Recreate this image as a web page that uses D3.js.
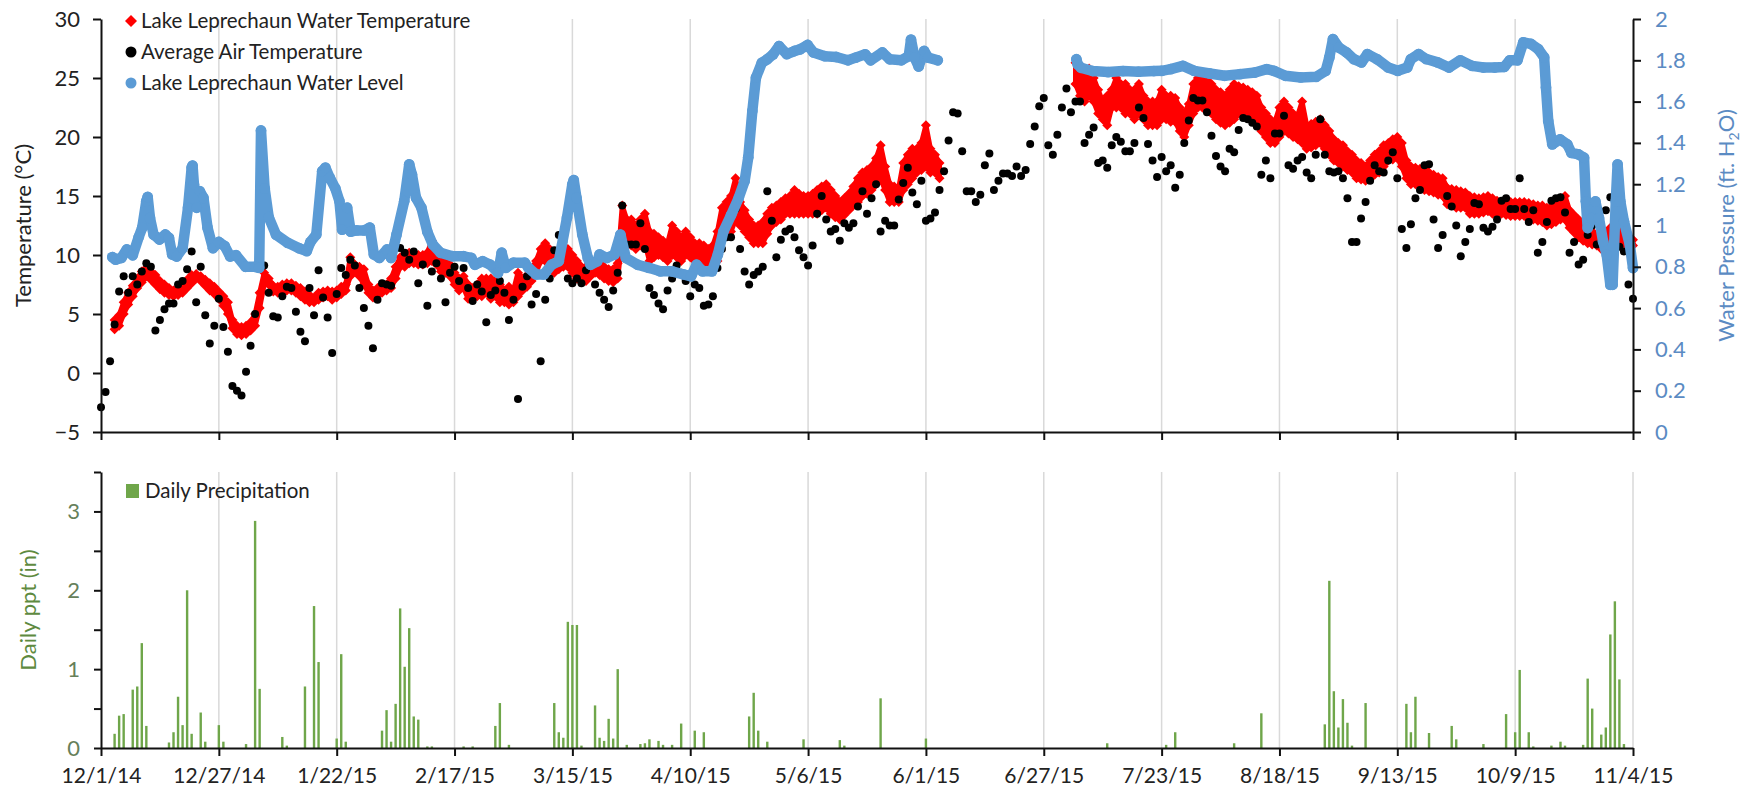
<!DOCTYPE html>
<html>
<head>
<meta charset="utf-8">
<script src="https://cdn.jsdelivr.net/npm/d3@7"></script>
<style>
  body { margin: 0; background: #fff; }
  svg { display: block; }
  text { font-family: Lato, "Open Sans", sans-serif; }
</style>
</head>
<body>
<svg id="chart" width="1756" height="792"></svg>
<script>
// ---- Data -------------------------------------------------------------
// Day offsets are counted from 12/1/2014.
const startDate = "2014-12-01";
const tickEvery = 26;          // x-axis tick spacing in days
const lastDay = 338;           // 11/4/2015

// Average air temperature (°C), one value per day from 12/1/14
const airTemp = [
  -2.9,-1.6,1.0,4.1,6.9,8.2,6.8,8.2,7.5,8.6,9.3,9.0,3.6,4.5,5.4,5.9,5.9,7.5,7.8,8.8,10.3,6.0,9.0,4.9,2.5,4.0,
  6.3,3.9,1.8,-1.1,-1.5,-1.9,0.1,2.3,5.0,11.4,9.1,6.8,4.8,4.7,6.5,7.3,7.2,5.2,3.5,2.7,7.2,4.9,8.7,6.4,4.7,1.7,
  6.7,8.9,8.3,9.6,9.1,7.2,5.5,4.0,2.1,6.2,7.6,7.5,7.4,11.5,10.6,10.2,9.6,10.3,7.6,9.2,5.7,8.6,9.3,8.0,6.0,8.5,
  9.0,7.8,8.9,7.2,6.1,7.5,6.9,4.3,6.6,7.0,7.8,6.8,4.5,6.2,-2.2,7.3,8.2,5.8,6.7,1.0,6.2,8.0,10.4,11.7,11.1,8.0,
  7.6,8.0,7.6,8.7,9.5,7.5,6.8,6.2,5.6,7.0,8.5,14.2,10.9,10.9,10.9,12.7,10.5,7.2,6.6,5.9,5.4,7.0,8.0,9.1,8.5,7.8,
  6.5,7.5,7.2,5.7,5.8,6.5,8.9,10.5,11.5,11.5,13.9,10.5,8.6,7.5,8.3,8.6,9.0,15.4,12.9,9.8,11.3,12.0,12.2,11.5,10.4,9.8,
  9.1,10.8,13.5,15.0,13.0,12.0,12.2,11.2,12.7,12.3,12.7,14.1,15.4,13.5,14.8,16.0,12.0,12.9,12.5,12.5,14.7,16.1,17.4,15.3,14.3,16.3,
  12.9,13.1,13.6,15.5,17.1,19.7,22.1,22.0,18.8,15.4,15.4,14.5,15.1,17.6,18.6,15.5,16.3,16.9,16.9,16.7,17.5,16.7,17.2,19.4,20.9,22.6,
  23.3,19.3,18.5,20.2,22.5,24.1,22.1,23.0,23.0,19.5,20.2,20.8,17.8,18.0,17.4,19.3,20.0,19.6,18.8,18.8,19.5,22.5,21.6,19.4,18.0,16.6,
  18.3,17.1,17.6,15.7,16.8,19.5,21.4,23.3,23.1,23.1,22.1,20.1,18.4,17.5,17.1,19.0,18.7,20.6,21.6,21.5,21.2,20.9,16.8,18.0,16.5,20.3,
  20.3,21.8,17.6,17.3,18.0,18.3,17.0,16.5,18.5,21.5,18.5,17.1,17.0,17.1,16.5,14.8,11.1,11.1,13.1,14.5,16.3,17.6,17.1,17.0,18.0,18.7,
  16.5,12.2,10.6,12.6,14.8,15.5,17.6,17.7,13.0,10.6,11.7,15.0,14.1,12.5,9.9,11.1,12.2,14.4,14.3,12.3,12.0,12.4,13.0,14.6,14.8,13.9,
  13.9,16.5,13.9,12.8,13.8,10.2,11.1,12.8,14.6,14.8,14.9,13.6,10.2,11.1,9.2,9.6,11.7,12.5,10.9,12.0,13.8,14.9,13.4,10.7,10.3,7.5,6.3
];

// Lake water temperature (°C): daily low / high readings, first logger deployment (from day 3)
const waterTempStart1 = 3;
const waterTempLow1 = [
  3.7,4.0,5.0,5.8,6.5,7.2,7.7,8.2,7.9,7.5, 7.1,6.8,6.6,6.5,6.6,6.8,7.2,7.6,8.0,7.8,
  7.4,7.0,6.7,6.3,5.7,5.0,3.8,3.3,3.2,3.3, 3.6,4.0,5.5,7.5,7.5,6.9,6.8,7.0,7.0,7.0,
  6.8,6.5,6.2,6.0,6.0,6.2,6.4,6.5,6.2,6.4, 6.7,7.0,8.2,8.6,8.2,7.5,6.8,6.4,6.6,6.8,
  7.0,7.2,8.0,9.0,9.0,9.3,9.3,9.2,9.2,9.3, 9.5,9.2,8.6,8.5,8.2,7.5,7.0,7.2,6.3,6.3,
  6.5,6.5,6.8,6.3,6.5,6.0,6.0,5.8,6.0,6.5, 7.0,7.3,7.8,8.5,9.5,9.5,9.0,8.5,8.8,9.0,
  9.0,8.5,8.0,7.7,7.8,8.2,8.5,8.3,8.0,7.8, 7.7,8.0,11.5,11.0,10.8,10.5,10.8,11.0,9.5,9.8,
  10.0,9.8,9.5,10.0,9.8,9.5,10.0,9.8,9.5,9.5, 9.5,9.0,9.0,9.5,11.5,11.8,12.0,13.0,12.5,12.0,
  11.5,11.0,11.0,11.0,11.8,12.5,12.8,13.0,13.5,13.5, 13.5,13.5,13.5,13.5,13.5,13.5,13.8,14.0,13.5,13.2,
  13.0,13.4,13.8,14.2,14.5,15.0,15.2,15.5,16.0,16.5, 15.5,14.5,14.5,14.5,15.5,16.0,16.5,17.0,17.2,17.5,
  17.0,17.0,16.5
];
const waterTempHigh1 = [
  4.5,4.9,6.0,6.8,7.4,8.0,8.6,8.9,8.6,8.3, 7.8,7.5,7.2,7.0,7.2,7.5,7.9,8.3,8.4,8.2,
  7.9,7.6,7.3,6.9,6.5,6.0,4.5,4.0,3.9,4.0, 4.3,5.0,6.8,8.5,8.0,7.4,7.3,7.5,7.6,7.6,
  7.4,7.2,6.9,6.6,6.4,6.8,6.9,7.0,6.9,7.0, 7.3,7.5,9.8,9.2,9.0,8.8,7.5,7.0,7.2,7.5,
  7.5,8.0,9.0,9.8,9.8,10.2,10.0,10.0,10.0,10.2, 11.2,10.0,9.5,9.4,9.2,8.5,8.0,8.2,7.5,7.2,
  7.5,8.0,8.0,8.0,7.8,7.5,7.0,7.3,7.0,8.5, 8.0,8.3,8.8,9.5,10.5,11.0,10.5,10.0,10.0,10.3,
  10.5,10.0,9.5,9.0,9.0,9.3,9.5,9.3,9.0,8.8, 8.8,9.3,14.2,13.0,13.0,12.5,13.0,13.5,12.0,11.8,
  11.5,11.2,11.0,12.5,12.0,11.5,12.0,11.5,11.0,11.0, 10.8,10.5,10.8,12.0,14.0,14.5,15.0,16.5,14.5,13.8,
  13.0,12.5,12.5,12.8,13.5,14.0,14.2,14.5,14.8,15.0, 15.5,15.2,15.0,15.0,15.2,15.5,15.8,16.0,15.5,15.0,
  14.5,14.8,15.2,15.8,16.5,17.0,17.2,17.5,18.2,19.3, 17.5,16.0,15.8,15.7,17.8,18.5,19.0,19.0,19.5,21.0,
  19.0,18.5,17.8
];

// Second logger deployment (from day 215, 7/4/15)
const waterTempStart2 = 215;
const waterTempLow2 = [
  24.5,23.5,23.0,23.5,23.0,22.0,21.5,21.0,22.5,22.5, 22.5,22.0,22.0,21.5,22.0,21.5,21.0,21.0,21.0,21.5,
  21.5,21.3,21.3,20.5,20.0,21.0,22.0,22.5,22.5,22.3, 22.0,21.5,21.2,21.0,21.2,21.5,22.0,22.0,22.0,21.6,
  21.3,20.5,20.0,19.5,19.5,20.0,20.5,20.3,20.0,19.8, 19.5,19.0,19.1,19.3,19.5,19.0,18.5,18.0,17.8,17.5,
  17.2,17.0,16.5,16.4,16.3,16.5,16.8,17.0,17.5,18.0, 18.1,18.2,17.5,16.5,16.0,16.0,16.0,15.5,15.4,15.3,
  15.1,15.0,14.3,14.2,14.0,14.0,14.0,13.5,13.5,13.5, 13.6,13.7,13.5,13.5,13.5,13.4,13.3,13.3,13.3,13.3,
  13.1,13.0,12.9,12.8,12.5,12.6,12.8,13.0,13.0,12.3, 11.9,11.5,11.2,11.0,10.9,10.8,10.5,10.8,11.2,11.5,
  11.2,11.0,10.8,10.8
];
const waterTempHigh2 = [
  26.3,25.5,25.5,25.8,25.0,24.0,23.0,23.5,24.0,25.0, 24.5,24.5,24.0,24.0,24.5,23.5,23.0,23.0,23.0,24.0,
  23.5,23.5,23.3,22.5,22.0,22.8,24.5,25.0,25.0,24.8, 24.5,24.0,23.8,23.5,24.0,24.5,24.3,24.2,24.0,23.8,
  23.5,22.5,22.0,21.5,21.3,22.5,23.0,22.5,22.0,21.8, 23.0,21.0,21.1,21.3,21.5,21.0,20.5,19.8,19.5,19.3,
  18.8,18.5,18.0,17.8,17.5,18.0,18.5,18.8,19.3,19.5, 19.8,20.0,19.5,18.0,17.5,17.4,17.3,17.3,17.0,16.8,
  16.6,16.5,15.7,15.6,15.5,15.4,15.3,15.0,14.9,14.8, 14.9,15.0,14.8,14.6,14.5,14.5,14.5,14.5,14.5,14.5,
  14.4,14.3,14.2,14.2,14.0,14.1,14.3,14.8,15.0,13.8, 13.4,13.0,12.6,12.3,12.0,11.8,11.5,11.9,12.3,12.5,
  12.1,11.8,11.5,11.3
];

// Water level as pressure (ft H2O): logger day offset and reading
const levelDay1 = [
  2.5,3.2,4.5,5.7,7,8.3,9.1,10,10.3,10.8,11.6,12.9,14.2,15,15.7,16.7,18,19.2,20,20.2,20.5,21.1,21.8,22.6,23.5,24.7,
  26,27.3,28.5,29.8,31.9,34,34.9,35.3,36.1,37,38.6,41.2,43.7,45.4,46.2,47.5,48.8,49.5,50.5,51.7,52.6,53.2,54.3,55.1,
  56.4,58.1,59.3,60.2,61.4,63.1,64,65.2,66.9,68,68.6,69.5,70.7,72,73.2,74.9,77.5,80,81.7,82.5,84.2,85.9,87.6,88.4,
  89.3,91,93.5,94.3,96,97.7,99.4,101,102.8,104,104.3,104.9,106.2,107.4,108,109.5,110,111.6,113.3,114.6,115.8,118.4,
  120.9,123.4,126,128.5,130.2,131.4,132.7,134.8,136.1,137.3,139,140.7,142,142.8,143.7,144.5,145.8,147,148.3,149.6,
  151.3,153,154.2,155.9,157.2,159.7,162.2,164.8,166.5,168.6,169.8,172.4,174,176.6,178.2,178.7,179.5,180.4,181.6,182.5,184.6
];
const levelFt1 = [
  0.847,0.835,0.843,0.884,0.856,0.943,0.99,1.118,1.138,1.037,0.956,0.932,0.956,0.94,0.86,0.85,0.89,1.086,1.28,1.29,1.2,1.086,1.166,1.134,0.99,0.89,
  0.92,0.90,0.85,0.856,0.80,0.80,0.795,1.46,1.18,1.04,0.956,0.916,0.89,0.876,0.92,0.956,1.263,1.28,1.23,1.18,1.118,0.98,1.086,0.97,
  0.976,0.976,0.99,0.86,0.843,0.884,0.843,0.956,1.118,1.296,1.247,1.134,1.086,0.97,0.908,0.868,0.851,0.851,0.843,0.81,0.827,0.81,0.77,0.868,
  0.795,0.82,0.82,0.795,0.763,0.763,0.81,0.827,1.037,1.2,1.22,1.134,0.956,0.843,0.81,0.827,0.86,0.843,0.86,0.956,0.843,0.81,
  0.795,0.778,0.778,0.763,0.754,0.81,0.778,0.778,0.86,0.97,1.05,1.134,1.215,1.33,1.554,1.716,1.788,1.805,1.829,1.869,
  1.83,1.845,1.853,1.874,1.838,1.82,1.816,1.80,1.813,1.829,1.80,1.838,1.805,1.80,1.82,1.90,1.813,1.77,1.845,1.813,1.80
];
const levelDay2 = [
  215.2,215.5,216.2,218.8,222.2,225.5,228.9,232.3,234,236,238.7,241.2,244.6,247.9,251.3,254.6,257.2,258.8,261.3,264.7,
  268.1,270.2,271,271.8,273.1,274.8,276.4,278.1,279.4,281.5,284,286.1,288.2,289,290.7,292.4,294.9,297.4,299.9,302.5,
  305,307.5,309.6,310.8,312.5,313.8,315.5,317.1,318.4,318.8,319.3,320.2,321.9,323.5,324.4,326,327.2,327.6,328,328.9,
  329.7,330.5,331.4,332.2,333,333.5,334.2,334.6,335.2,336,337.3,338
];
const levelFt2 = [
  1.805,1.78,1.764,1.748,1.743,1.748,1.745,1.748,1.749,1.757,1.773,1.749,1.736,1.725,1.733,1.741,1.757,1.749,1.725,1.717,
  1.72,1.749,1.814,1.903,1.862,1.838,1.806,1.79,1.83,1.806,1.765,1.749,1.765,1.806,1.83,1.806,1.79,1.765,1.80,1.773,
  1.765,1.765,1.768,1.80,1.80,1.887,1.879,1.854,1.814,1.668,1.506,1.393,1.417,1.393,1.352,1.344,1.328,1.117,0.988,1.036,
  1.117,1.036,0.923,0.858,0.713,0.713,1.117,1.296,1.117,1.02,0.907,0.794
];

// Daily precipitation (in): day offset and total, days with rain only
const pptDay = [
  3,4,5,7,8,9,10,15,16,17,18,19,20,22,23,26,27,32,34,35,40,41,45,47,48,52,53,54,62,63,64,65,66,67,68,69,70,72,73,80,82,
  87,88,90,100,101,102,103,104,105,106,109,110,111,112,113,114,116,119,120,121,123,124,126,128,131,133,143,144,145,147,
  155,163,164,172,182,222,235,237,250,256,270,271,272,273,274,275,276,279,288,289,290,293,298,299,305,310,312,313,315,316,
  320,322,323,327,328,329,331,332,333,334,335,336
];
const pptIn = [
  0.18,0.41,0.43,0.74,0.78,1.33,0.28,0.07,0.20,0.65,0.29,2.00,0.18,0.45,0.08,0.29,0.08,0.05,2.88,0.75,0.14,0.03,0.78,1.80,1.09,0.12,1.19,0.08,0.22,0.48,0.08,0.56,1.77,1.03,1.52,0.40,0.36,0.02,0.02,0.02,0.02,
  0.28,0.57,0.04,0.57,0.20,0.13,1.60,1.56,1.56,0.03,0.54,0.13,0.09,0.37,0.12,1.00,0.04,0.05,0.06,0.11,0.09,0.04,0.04,0.31,0.22,0.20,0.40,0.70,0.22,0.08,
  0.11,0.10,0.03,0.63,0.12,0.06,0.04,0.20,0.06,0.44,0.30,2.12,0.72,0.26,0.62,0.32,0.03,0.57,0.56,0.20,0.65,0.19,0.28,0.11,0.05,0.43,0.20,0.99,0.20,0.02,
  0.03,0.08,0.03,0.04,0.88,0.50,0.17,0.26,1.44,1.86,0.87,0.05
];

const tempTicks = [-5, 0, 5, 10, 15, 20, 25, 30];
const levelTicks = [0, 0.2, 0.4, 0.6, 0.8, 1, 1.2, 1.4, 1.6, 1.8, 2];
const pptTicks = [0, 0.5, 1, 1.5, 2, 2.5, 3, 3.5];

// ---- Colours ------------------------------------------------------------
const RED = "#ff0000", BLUE = "#5b9bd5", GREEN = "#6fa64a";
const BLUE_TEXT = "#5b8bc3", GREEN_TEXT = "#5e8a40", GREEN_TICK = "#66805a";
const GRID = "#d9d9d9", TEXT = "#222";

// ---- Scales -------------------------------------------------------------
const t0 = Date.parse(startDate + "T00:00:00Z");
const dayToDate = d => new Date(t0 + d * 864e5);

const svg = d3.select("#chart");
const x = d3.scaleUtc().domain([dayToDate(0), dayToDate(lastDay)]).range([101, 1633]);
const yT = d3.scaleLinear().domain([-5, 30]).range([432, 19]);
const yL = d3.scaleLinear().domain([0, 2]).range([432, 19]);
const yP = d3.scaleLinear().domain([0, 3.5]).range([748, 472]);

const tickDates = d3.range(0, lastDay + 1, tickEvery).map(dayToDate);
const fmtDate = d3.utcFormat("%-m/%-d/%y");

// ---- Gridlines ----------------------------------------------------------
svg.append("g").selectAll("line").data(tickDates.slice(1, -1)).join("line")
  .attr("x1", d => x(d)).attr("x2", d => x(d))
  .attr("y1", yT(30)).attr("y2", yT(-5))
  .attr("stroke", GRID).attr("stroke-width", 1.5);
svg.append("g").selectAll("line").data(tickDates.slice(1)).join("line")
  .attr("x1", d => x(d)).attr("x2", d => x(d))
  .attr("y1", yP(3.5)).attr("y2", yP(0))
  .attr("stroke", GRID).attr("stroke-width", 1.5);

// ---- Precipitation bars -------------------------------------------------
const pptData = pptDay.map((d, i) => ({ date: dayToDate(d), v: pptIn[i] }));
svg.append("g").selectAll("rect").data(pptData).join("rect")
  .attr("x", d => x(d.date) - 1.2).attr("width", 2.4)
  .attr("y", d => yP(d.v)).attr("height", d => yP(0) - yP(d.v))
  .attr("fill", GREEN);

// ---- Water temperature band (red diamonds) ------------------------------
function tempSegment(start, lows, highs) {
  return lows.map((lo, i) => ({ date: dayToDate(start + i), lo, hi: highs[i] }));
}
const wtSegs = [
  tempSegment(waterTempStart1, waterTempLow1, waterTempHigh1),
  tempSegment(waterTempStart2, waterTempLow2, waterTempHigh2)
];
const band = d3.area().x(d => x(d.date)).y0(d => yT(d.lo)).y1(d => yT(d.hi));
const gWT = svg.append("g");
gWT.selectAll("path.band").data(wtSegs).join("path")
  .attr("class", "band").attr("d", band)
  .attr("fill", RED).attr("stroke", RED).attr("stroke-width", 5).attr("stroke-linejoin", "round");
const diamond = r => `M0,${-r}L${r},0L0,${r}L${-r},0Z`;
const wtPts = wtSegs.flat().flatMap(d => [{ date: d.date, v: d.lo }, { date: d.date, v: d.hi }]);
gWT.selectAll("path.mk").data(wtPts).join("path")
  .attr("class", "mk").attr("d", diamond(5))
  .attr("transform", d => `translate(${x(d.date)},${yT(d.v)})`)
  .attr("fill", RED);

// ---- Air temperature (black dots) ---------------------------------------
svg.append("g").selectAll("circle").data(airTemp.map((v, i) => ({ date: dayToDate(i), v })))
  .join("circle")
  .attr("cx", d => x(d.date)).attr("cy", d => yT(d.v)).attr("r", 4)
  .attr("fill", "#000");

// ---- Water level (blue) -------------------------------------------------
const levelSegs = [
  levelDay1.map((d, i) => ({ date: dayToDate(d), v: levelFt1[i] })),
  levelDay2.map((d, i) => ({ date: dayToDate(d), v: levelFt2[i] }))
];
const levelLine = d3.line().x(d => x(d.date)).y(d => yL(d.v));
const gWL = svg.append("g");
gWL.selectAll("path").data(levelSegs).join("path")
  .attr("d", levelLine).attr("fill", "none")
  .attr("stroke", BLUE).attr("stroke-width", 10.5)
  .attr("stroke-linejoin", "round").attr("stroke-linecap", "round");
gWL.selectAll("circle").data(levelSegs.flat()).join("circle")
  .attr("cx", d => x(d.date)).attr("cy", d => yL(d.v)).attr("r", 5.4)
  .attr("fill", BLUE);

// ---- Axes ---------------------------------------------------------------
function styleAxis(g, color, size) {
  g.attr("font-family", null).attr("font-size", null);
  g.select(".domain").attr("stroke", "#111").attr("stroke-width", 2);
  g.selectAll(".tick line").attr("stroke", "#111").attr("stroke-width", 2);
  g.selectAll(".tick text").attr("fill", color).style("font-size", size + "px");
}

// top panel x-axis (ticks only)
svg.append("g").attr("transform", `translate(0,${yT(-5)})`)
  .call(d3.axisBottom(x).tickValues(tickDates).tickSize(8).tickSizeOuter(0).tickFormat(""))
  .call(g => styleAxis(g, TEXT, 20));

// left temperature axis
svg.append("g").attr("transform", `translate(${x.range()[0]},0)`)
  .call(d3.axisLeft(yT).tickValues(tempTicks).tickSize(8).tickSizeOuter(0).tickPadding(13))
  .call(g => styleAxis(g, TEXT, 22));

// right water-pressure axis
svg.append("g").attr("transform", `translate(${x.range()[1]},0)`)
  .call(d3.axisRight(yL).tickValues(levelTicks).tickSize(8).tickSizeOuter(0).tickPadding(14)
    .tickFormat(d => String(+d.toFixed(1))))
  .call(g => styleAxis(g, BLUE_TEXT, 22));

// bottom panel: date axis
svg.append("g").attr("transform", `translate(0,${yP(0)})`)
  .call(d3.axisBottom(x).tickValues(tickDates).tickSize(8).tickSizeOuter(0).tickPadding(12).tickFormat(fmtDate))
  .call(g => styleAxis(g, TEXT, 21));

// bottom panel: precipitation axis
svg.append("g").attr("transform", `translate(${x.range()[0]},0)`)
  .call(d3.axisLeft(yP).tickValues(pptTicks).tickSize(7).tickSizeOuter(0).tickPadding(14)
    .tickFormat(d => Number.isInteger(d) ? d : ""))
  .call(g => styleAxis(g, GREEN_TICK, 22));

// ---- Axis titles --------------------------------------------------------
svg.append("text")
  .attr("transform", `translate(31,${(yT(30) + yT(-5)) / 2}) rotate(-90)`)
  .attr("text-anchor", "middle").attr("fill", TEXT).style("font-size", "22px")
  .text("Temperature (°C)");

const wp = svg.append("text")
  .attr("transform", `translate(1734,${(yL(2) + yL(0)) / 2}) rotate(-90)`)
  .attr("text-anchor", "middle").attr("fill", BLUE_TEXT).style("font-size", "22px");
wp.append("tspan").text("Water Pressure (ft. H");
wp.append("tspan").text("2").attr("dy", 5).style("font-size", "14px");
wp.append("tspan").text("O)").attr("dy", -5);

svg.append("text")
  .attr("transform", `translate(36,${(yP(0) + yP(3.5)) / 2}) rotate(-90)`)
  .attr("text-anchor", "middle").attr("fill", GREEN_TEXT).style("font-size", "22px")
  .text("Daily ppt (in)");

// ---- Legends ------------------------------------------------------------
const legendItems = [
  { label: "Lake Leprechaun Water Temperature", kind: "diamond", color: RED },
  { label: "Average Air Temperature", kind: "circle", color: "#000" },
  { label: "Lake Leprechaun Water Level", kind: "circle", color: BLUE }
];
const leg = svg.append("g").attr("transform", "translate(131,21)");
const li = leg.selectAll("g").data(legendItems).join("g")
  .attr("transform", (d, i) => `translate(0,${i * 31})`);
li.filter(d => d.kind === "diamond").append("path").attr("d", diamond(6)).attr("fill", d => d.color);
li.filter(d => d.kind === "circle").append("circle").attr("r", 5.5).attr("fill", d => d.color);
li.append("text").attr("x", 10).attr("y", 7).attr("fill", TEXT).style("font-size", "20.5px").text(d => d.label);

const leg2 = svg.append("g").attr("transform", "translate(126,491)");
leg2.append("rect").attr("x", 0).attr("y", -7).attr("width", 13).attr("height", 14).attr("fill", GREEN);
leg2.append("text").attr("x", 19).attr("y", 7).attr("fill", TEXT).style("font-size", "20.5px").text("Daily Precipitation");
</script>
</body>
</html>
